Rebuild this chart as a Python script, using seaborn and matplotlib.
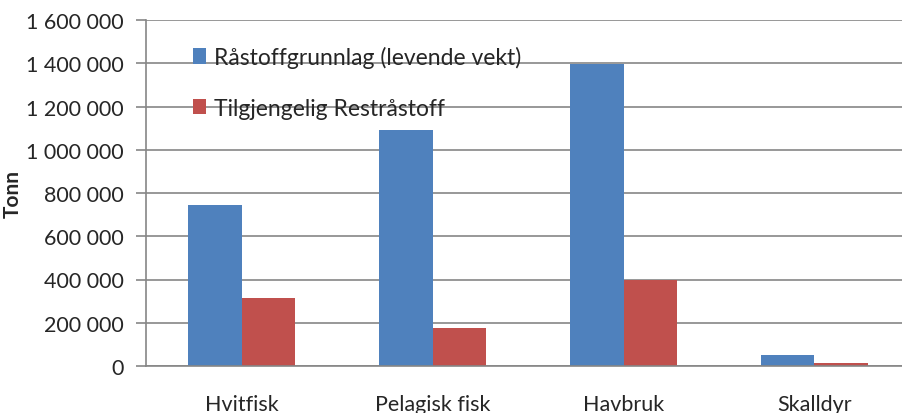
import pandas as pd
import matplotlib
matplotlib.use("Agg")
import matplotlib.pyplot as plt
import seaborn as sns
from matplotlib.ticker import FuncFormatter

# Data
categories = ["Hvitfisk", "Pelagisk fisk", "Havbruk", "Skalldyr"]
raw_material = [745000, 1093000, 1397000, 51000]
residual = [315000, 177000, 398000, 15000]
series_names = ["Råstoffgrunnlag (levende vekt)", "Tilgjengelig Restråstoff"]

df = pd.DataFrame({
    "kategori": categories * 2,
    "tonn": raw_material + residual,
    "serie": [series_names[0]] * 4 + [series_names[1]] * 4,
})

sns.set_theme(style="white")
plt.rcParams["font.family"] = ["Lato", "DejaVu Sans"]

grid_col = "#868686"
fig = plt.figure(figsize=(9.02, 4.14), dpi=100)
ax = fig.add_axes([146 / 902, (414 - 367) / 414, 764 / 902, 346 / 414])

sns.barplot(data=df, x="kategori", y="tonn", hue="serie",
            palette=["#4F81BD", "#C0504D"], width=0.56, gap=0,
            saturation=1, ax=ax, linewidth=0)

ax.set_xlim(-0.5, 3.5)
ax.set_ylim(0, 1600000)
ax.set_yticks(range(0, 1600001, 200000))
ax.yaxis.set_major_formatter(FuncFormatter(lambda v, p: f"{int(v):,}".replace(",", " ")))
ax.yaxis.grid(True, color=grid_col, linewidth=1.2)
ax.set_axisbelow(True)

ax.set_xticks(range(len(categories)))
ax.set_xticklabels(categories)
ax.set_xticks([-0.5, 0.5, 1.5, 2.5, 3.5], minor=True)
ax.tick_params(axis="x", which="major", length=0, pad=20, labelsize=15.5)
ax.tick_params(axis="x", which="minor", length=7, width=1.2, color=grid_col, direction="out")
ax.tick_params(axis="y", length=7, width=1.2, color=grid_col, direction="out", labelsize=15.5, pad=9,
               left=True)

for side in ["top", "right"]:
    ax.spines[side].set_visible(False)
for side in ["left", "bottom"]:
    ax.spines[side].set_color(grid_col)
    ax.spines[side].set_linewidth(1.2)

ax.set_xlabel("")
ax.set_ylabel("Tonn", fontsize=15, fontweight="bold", labelpad=2)

ax.legend(loc="upper left", bbox_to_anchor=(0.0615, 0.925), frameon=False,
          fontsize=16.5, borderaxespad=0, borderpad=0, labelspacing=1.3,
          handlelength=0.55, handleheight=0.65, handletextpad=0.35)

fig.savefig("out.png", dpi=100)
